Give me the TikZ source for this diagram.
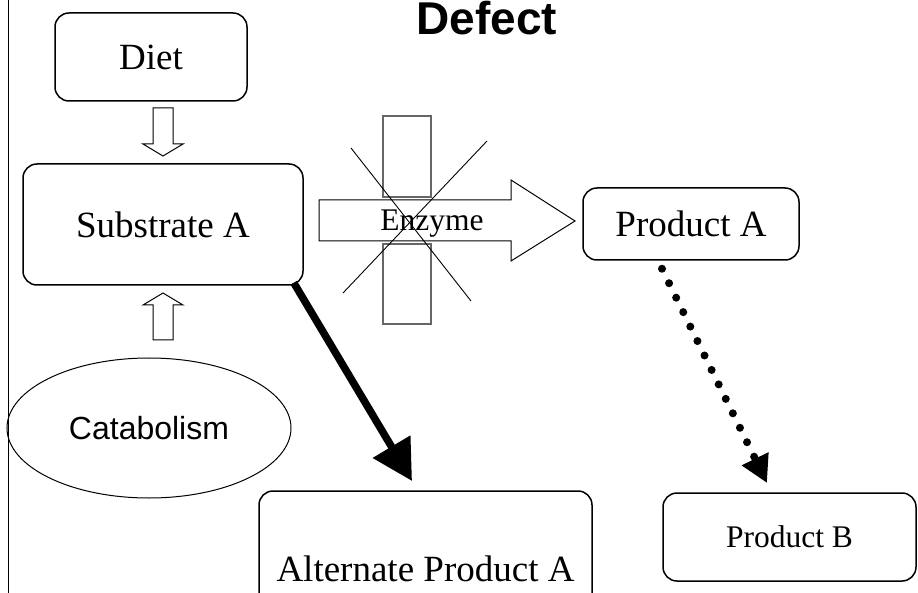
\documentclass[tikz,border=0pt]{standalone}
\usepackage{fontspec}
\setmainfont{Liberation Serif}
\newfontfamily\arialf{Liberation Sans}
\usetikzlibrary{arrows.meta,shapes.geometric,calc}

\begin{document}
\begin{tikzpicture}[x=1pt,y=-1pt,
  box/.style={draw, line width=1.5pt, rounded corners=14pt, inner sep=0pt},
  bigtext/.style={font=\fontsize{37}{40}\selectfont},
  smalltext/.style={font=\fontsize{31.5}{34}\selectfont},
  hollow/.style={draw, line width=1pt, fill=white, line join=miter},
  barrier/.style={draw=black!60, line width=1.5pt},
  crossline/.style={draw, line width=0.9pt},
  thickarrow/.style={line width=7.5pt, -{Triangle[length=40pt,width=42pt]}},
  dotarrow/.style={line width=8pt, line cap=round, dash pattern=on 0pt off 16.1pt, -{Triangle[length=27pt,width=28pt]}},
]
\useasboundingbox (0,0) rectangle (918,593);
\draw[line width=1pt] (8,0) -- (8,593);

% title
\node[anchor=base, font=\arialf\bfseries\fontsize{46}{50}\selectfont] (title) at (487,35) {Defect};

% boxes
\node[box, bigtext, minimum width=192pt, minimum height=88pt] (diet) at (151,57) {Diet};
\node[box, bigtext, minimum width=280pt, minimum height=121pt] (sub) at (163,224.5) {Substrate A};
\node[box, bigtext, minimum width=216pt, minimum height=72pt] (pa) at (691,224) {Product A};
\node[box, bigtext, minimum width=333pt, minimum height=156pt] (alt) at (425.5,569) {Alternate Product A};
\node[box, smalltext, minimum width=253pt, minimum height=88pt] (pb) at (789.5,537) {Product B};
\node[draw, ellipse, line width=1pt, inner sep=0pt, minimum width=284pt, minimum height=140pt,
      font=\arialf\fontsize{32}{35}\selectfont] (cat) at (149,428) {Catabolism};

% hollow arrow Diet -> Substrate
\path[hollow] (153,108) -- (173,108) -- (173,144) -- (183,144) -- (163,156) -- (143,144) -- (153,144) -- cycle;
% hollow arrow Catabolism -> Substrate
\path[hollow] (153,340) -- (173,340) -- (173,305) -- (183,305) -- (163,293) -- (143,305) -- (153,305) -- cycle;

% barrier rectangles
\draw[barrier] (383,116) rectangle (431,197);
\draw[barrier] (383,244) rectangle (431,324);

% enzyme arrow
\path[hollow] (319,200) -- (511,200) -- (511,180) -- (575,221) -- (511,261) -- (511,241) -- (319,241) -- cycle;
\node[anchor=base, smalltext, inner sep=0pt] (enz) at (432,231) {Enzyme};

% cross
\draw[crossline] (351,148) -- (471,301);
\draw[crossline] (487,141) -- (343,293);

% thick arrow Substrate -> Alternate
\coordinate (t1) at (412,481);
\draw[thickarrow] ($(sub.south east)+(-10,-3)$) -- (t1);

% dotted arrow Product A -> Product B
\coordinate (d0) at ($(pa.south)+(-29,8)$);
\coordinate (t2) at (767,483);
\draw[dotarrow] (d0) -- (t2);
\end{tikzpicture}
\end{document}
